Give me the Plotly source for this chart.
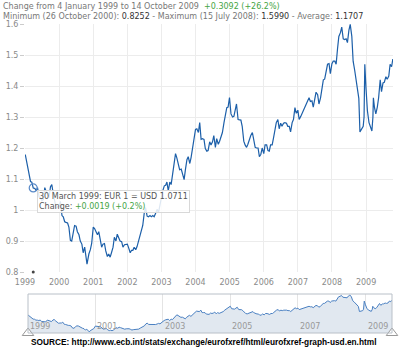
import plotly.graph_objects as go

# ---- data (approximate semi-monthly readings from the chart) ----
dates = [
 "1999-01-04","1999-01-15","1999-02-01","1999-02-15","1999-03-01","1999-03-15","1999-03-30","1999-04-15","1999-05-01","1999-05-15","1999-06-01","1999-06-15",
 "1999-07-01","1999-07-15","1999-08-01","1999-08-15","1999-09-01","1999-09-15","1999-10-01","1999-10-15","1999-11-01","1999-11-15","1999-12-01","1999-12-15",
 "2000-01-01","2000-01-15","2000-02-01","2000-02-15","2000-03-01","2000-03-15","2000-04-01","2000-04-15","2000-05-01","2000-05-15","2000-06-01","2000-06-15",
 "2000-07-01","2000-07-15","2000-08-01","2000-08-15","2000-09-01","2000-09-15","2000-10-01","2000-10-15","2000-10-26","2000-11-15","2000-12-01","2000-12-15",
 "2001-01-01","2001-01-15","2001-02-01","2001-02-15","2001-03-01","2001-03-15","2001-04-01","2001-04-15","2001-05-01","2001-05-15","2001-06-01","2001-06-15",
 "2001-07-01","2001-07-15","2001-08-01","2001-08-15","2001-09-01","2001-09-15","2001-10-01","2001-10-15","2001-11-01","2001-11-15","2001-12-01","2001-12-15",
 "2002-01-01","2002-01-15","2002-02-01","2002-02-15","2002-03-01","2002-03-15","2002-04-01","2002-04-15","2002-05-01","2002-05-15","2002-06-01","2002-06-15",
 "2002-07-01","2002-07-15","2002-08-01","2002-08-15","2002-09-01","2002-09-15","2002-10-01","2002-10-15","2002-11-01","2002-11-15","2002-12-01","2002-12-15",
 "2003-01-01","2003-01-15","2003-02-01","2003-02-15","2003-03-01","2003-03-15","2003-04-01","2003-04-15","2003-05-01","2003-05-15","2003-06-01","2003-06-15",
 "2003-07-01","2003-07-15","2003-08-01","2003-08-15","2003-09-01","2003-09-15","2003-10-01","2003-10-15","2003-11-01","2003-11-15","2003-12-01","2003-12-15",
 "2004-01-01","2004-01-15","2004-02-01","2004-02-15","2004-03-01","2004-03-15","2004-04-01","2004-04-15","2004-05-01","2004-05-15","2004-06-01","2004-06-15",
 "2004-07-01","2004-07-15","2004-08-01","2004-08-15","2004-09-01","2004-09-15","2004-10-01","2004-10-15","2004-11-01","2004-11-15","2004-12-01","2004-12-15","2004-12-30",
 "2005-01-15","2005-02-01","2005-02-15","2005-03-01","2005-03-15","2005-04-01","2005-04-15","2005-05-01","2005-05-15","2005-06-01","2005-06-15",
 "2005-07-01","2005-07-15","2005-08-01","2005-08-15","2005-09-01","2005-09-15","2005-10-01","2005-10-15","2005-11-01","2005-11-15","2005-12-01","2005-12-15",
 "2006-01-01","2006-01-15","2006-02-01","2006-02-15","2006-03-01","2006-03-15","2006-04-01","2006-04-15","2006-05-01","2006-05-15","2006-06-01","2006-06-15",
 "2006-07-01","2006-07-15","2006-08-01","2006-08-15","2006-09-01","2006-09-15","2006-10-01","2006-10-15","2006-11-01","2006-11-15","2006-12-01","2006-12-15",
 "2007-01-01","2007-01-15","2007-02-01","2007-02-15","2007-03-01","2007-03-15","2007-04-01","2007-04-15","2007-05-01","2007-05-15","2007-06-01","2007-06-15",
 "2007-07-01","2007-07-15","2007-08-01","2007-08-15","2007-09-01","2007-09-15","2007-10-01","2007-10-15","2007-11-01","2007-11-15","2007-12-01","2007-12-15",
 "2008-01-01","2008-01-15","2008-02-01","2008-02-15","2008-03-01","2008-03-15","2008-04-01","2008-04-15","2008-05-01","2008-05-15","2008-06-01","2008-06-15",
 "2008-07-01","2008-07-15","2008-08-01","2008-08-15","2008-09-01","2008-09-15","2008-10-01","2008-10-15","2008-10-27","2008-11-15","2008-12-01","2008-12-10","2008-12-18","2008-12-31",
 "2009-01-15","2009-02-01","2009-02-15","2009-03-04","2009-03-15","2009-03-20","2009-04-01","2009-04-15","2009-05-01","2009-05-15","2009-06-01","2009-06-15",
 "2009-07-01","2009-07-15","2009-08-01","2009-08-15","2009-09-01","2009-09-15","2009-10-01","2009-10-14",
]
eur_usd = [
 1.179,1.160,1.130,1.118,1.092,1.090,1.071,1.070,1.062,1.072,1.042,1.040,
 1.030,1.033,1.072,1.060,1.050,1.040,1.075,1.082,1.050,1.030,1.005,1.010,
 1.010,1.028,0.982,0.978,0.962,0.960,0.958,0.945,0.902,0.900,0.932,0.950,
 0.948,0.930,0.920,0.900,0.890,0.862,0.880,0.850,0.8252,0.858,0.872,0.892,
 0.945,0.940,0.930,0.920,0.930,0.900,0.880,0.890,0.892,0.868,0.850,0.858,
 0.848,0.862,0.880,0.912,0.900,0.922,0.912,0.900,0.898,0.880,0.888,0.890,
 0.890,0.878,0.862,0.870,0.870,0.880,0.872,0.882,0.902,0.912,0.932,0.950,
 0.990,1.008,0.980,0.978,0.982,0.978,0.982,0.978,0.990,1.002,0.992,1.020,
 1.040,1.062,1.078,1.080,1.090,1.062,1.090,1.082,1.120,1.160,1.182,1.168,
 1.142,1.130,1.132,1.118,1.098,1.130,1.162,1.172,1.150,1.170,1.200,1.232,
 1.260,1.262,1.250,1.282,1.228,1.230,1.228,1.198,1.190,1.192,1.220,1.210,
 1.220,1.240,1.202,1.230,1.212,1.222,1.240,1.250,1.282,1.302,1.330,1.332,1.363,
 1.310,1.300,1.302,1.322,1.342,1.292,1.292,1.290,1.270,1.222,1.210,
 1.202,1.212,1.232,1.240,1.250,1.222,1.202,1.200,1.200,1.172,1.180,1.200,
 1.182,1.210,1.210,1.192,1.190,1.210,1.210,1.232,1.262,1.282,1.292,1.262,
 1.280,1.270,1.280,1.282,1.280,1.270,1.270,1.252,1.282,1.292,1.330,1.312,
 1.322,1.292,1.302,1.312,1.322,1.330,1.342,1.352,1.362,1.350,1.352,1.332,
 1.362,1.380,1.372,1.342,1.362,1.392,1.420,1.422,1.450,1.470,1.472,1.440,
 1.472,1.480,1.480,1.470,1.520,1.560,1.572,1.590,1.552,1.550,1.552,1.540,
 1.580,1.599,1.560,1.480,1.450,1.420,1.400,1.360,1.252,1.262,1.270,1.300,1.470,1.392,
 1.320,1.282,1.270,1.255,1.300,1.362,1.330,1.310,1.332,1.362,1.420,1.382,
 1.410,1.412,1.430,1.422,1.432,1.470,1.462,1.487,
]
year_ticks = ["1999","2000","2001","2002","2003","2004","2005","2006","2007","2008","2009"]
nav_labels = ["1999","2001","2003","2005","2007","2009"]
hover_date = "1999-03-30"
hover_value = 1.0711

LINE = "#1c5fa9"
GRID = "#ececec"
TXT = "#8a8a8a"
FONT = "DejaVu Sans"

fig = go.Figure()

# main series
fig.add_trace(go.Scatter(x=dates, y=eur_usd, mode="lines",
                         line=dict(color=LINE, width=1.2), xaxis="x", yaxis="y",
                         hoverinfo="skip"))
# hover marker ring
fig.add_trace(go.Scatter(x=[hover_date], y=[hover_value], mode="markers",
                         marker=dict(size=8, color="rgba(0,0,0,0)",
                                     line=dict(color="#5a8ac8", width=1.2)),
                         xaxis="x", yaxis="y", hoverinfo="skip"))
# small dot on the x axis
fig.add_trace(go.Scatter(x=[hover_date], y=[0.8], mode="markers",
                         marker=dict(size=3, color="#444"), cliponaxis=False,
                         xaxis="x", yaxis="y", hoverinfo="skip"))

# navigator series
fig.add_trace(go.Scatter(x=dates, y=eur_usd, mode="lines", fill="tozeroy",
                         fillcolor="#e1e8f0", line=dict(color="#4a80c2", width=1),
                         xaxis="x2", yaxis="y2", hoverinfo="skip"))
# navigator handles
fig.add_trace(go.Scatter(x=[dates[0], dates[-1]], y=[0.80, 0.80], mode="markers",
                         marker=dict(symbol="triangle-up", size=10, color="white",
                                     line=dict(color="#999", width=1)),
                         cliponaxis=False, xaxis="x2", yaxis="y2", hoverinfo="skip"))

W, H = 400, 355
ml, mr, mt, mb = 25, 7, 24, 0
pw = W - ml - mr
ph = H - mt - mb

def px_x(p):
    return (p - ml) / pw

def px_y(p):
    return (H - mb - p) / ph

annotations = [
    dict(text="Change from 4 January 1999 to 14 October 2009  <span style='color:#45a545'>+0.3092 (+26.2%)</span>",
         xref="paper", yref="paper", x=px_x(1), y=px_y(6), xanchor="left", yanchor="middle",
         showarrow=False, font=dict(family=FONT, size=8, color="#777")),
    dict(text="Minimum (26 October 2000): <span style='color:#333'>0.8252</span> - Maximum (15 July 2008): "
              "<span style='color:#333'>1.5990</span> - Average: <span style='color:#333'>1.1707</span>",
         xref="paper", yref="paper", x=px_x(1), y=px_y(16.5), xanchor="left", yanchor="middle",
         showarrow=False, font=dict(family=FONT, size=8, color="#777")),
    dict(text="30 March 1999: EUR 1 = USD 1.0711<br>Change: <span style='color:#45a545'>+0.0019 (+0.2%)</span>",
         xref="paper", yref="paper", x=px_x(37), y=px_y(190), xanchor="left", yanchor="top",
         align="left", showarrow=False, bgcolor="rgba(255,255,255,0.85)", bordercolor="#d8d8d8",
         borderwidth=1, borderpad=1, font=dict(family=FONT, size=8, color="#555")),
    dict(text="<b>SOURCE: http://www.ecb.int/stats/exchange/eurofxref/html/eurofxref-graph-usd.en.html</b>",
         xref="paper", yref="paper", x=px_x(203), y=px_y(342), xanchor="center", yanchor="middle",
         showarrow=False, font=dict(family="Liberation Sans", size=8.3, color="#000")),
]
nav_label_x = {"1999": "1999-01-05"}
for lab in nav_labels:
    annotations.append(dict(text=lab, xref="x2", yref="y2 domain",
                            x=nav_label_x.get(lab, lab + "-01-01"), y=0.0,
                            xanchor="left", yanchor="bottom", showarrow=False, xshift=0,
                            font=dict(family=FONT, size=8, color="#999")))

nav_top, nav_bot = 294, 333
fig.update_layout(
    template="none",
    width=W, height=H, margin=dict(l=ml, r=mr, t=mt, b=mb, autoexpand=False),
    paper_bgcolor="white", plot_bgcolor="white", showlegend=False,
    font=dict(family=FONT, size=8, color=TXT),
    xaxis=dict(type="date", range=["1999-01-01", "2009-10-16"], domain=[0, 1], automargin=False,
               tickvals=[y + "-01-01" for y in year_ticks], ticktext=year_ticks,
               showgrid=True, gridcolor=GRID, gridwidth=1, zeroline=False, showline=False,
               ticks="", ticklabelstandoff=4, tickfont=dict(size=8, color=TXT), anchor="y"),
    yaxis=dict(range=[0.8, 1.6], domain=[px_y(272), 1], dtick=0.1, tickformat="~g", automargin=False,
               showgrid=True, gridcolor=GRID, zeroline=False, showline=False,
               ticks="outside", ticklen=4, tickcolor="#ccc",
               tickfont=dict(size=8, color=TXT), anchor="x"),
    xaxis2=dict(type="date", range=["1999-01-04", "2009-10-14"], automargin=False,
                domain=[px_x(28), px_x(392)], anchor="y2",
                tick0="1999-01-01", dtick="M24", showticklabels=False, ticks="",
                showgrid=True, gridcolor="#e4e4e4", zeroline=False, showline=False),
    yaxis2=dict(range=[0.80, 1.62], domain=[px_y(nav_bot), px_y(nav_top)], anchor="x2",
                automargin=False, ticks="",
                showticklabels=False, showgrid=False, zeroline=False),
    annotations=annotations,
    shapes=[dict(type="rect", xref="x2 domain", yref="y2 domain", x0=0, x1=1, y0=0, y1=1,
                 line=dict(color="#b9c0c8", width=1), fillcolor="rgba(0,0,0,0)", layer="above")],
)

fig.write_html("out.html", config={"displayModeBar": False},
               post_script="document.body.style.margin='0';document.body.style.padding='0';")
